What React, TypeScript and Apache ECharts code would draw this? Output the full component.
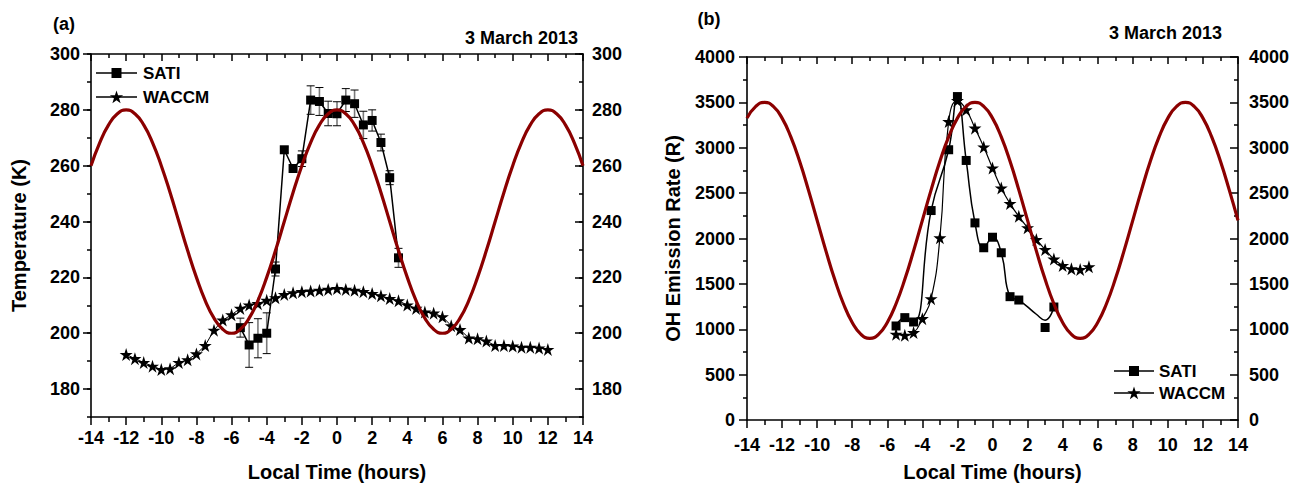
import React, { useEffect, useRef } from "react";
import * as echarts from "echarts";

// ---------- data ----------
const HOURS = [-14, -13.5, -13, -12.5, -12, -11.5, -11, -10.5, -10, -9.5, -9, -8.5, -8, -7.5, -7, -6.5, -6, -5.5, -5, -4.5, -4, -3.5, -3, -2.5, -2, -1.5, -1, -0.5, 0, 0.5, 1, 1.5, 2, 2.5, 3, 3.5, 4, 4.5, 5, 5.5, 6, 6.5, 7, 7.5, 8, 8.5, 9, 9.5, 10, 10.5, 11, 11.5, 12, 12.5, 13, 13.5, 14];

const TEMP_MODEL = [260, 268.3, 274.6, 278.6, 280, 278.6, 274.6, 268.3, 260, 250.4, 240, 229.6, 220, 211.7, 205.4, 201.4, 200, 201.4, 205.4, 211.7, 220, 229.6, 240, 250.4, 260, 268.3, 274.6, 278.6, 280, 278.6, 274.6, 268.3, 260, 250.4, 240, 229.6, 220, 211.7, 205.4, 201.4, 200, 201.4, 205.4, 211.7, 220, 229.6, 240, 250.4, 260, 268.3, 274.6, 278.6, 280, 278.6, 274.6, 268.3, 260];

const OH_MODEL = [3326, 3456, 3500, 3456, 3326, 3119, 2850, 2536, 2200, 1864, 1550, 1281, 1074, 944, 900, 944, 1074, 1281, 1550, 1864, 2200, 2536, 2850, 3119, 3326, 3456, 3500, 3456, 3326, 3119, 2850, 2536, 2200, 1864, 1550, 1281, 1074, 944, 900, 944, 1074, 1281, 1550, 1864, 2200, 2536, 2850, 3119, 3326, 3456, 3500, 3456, 3326, 3119, 2850, 2536, 2200];

const SATI_A_T = [-5.5, -5, -4.5, -4, -3.5, -3, -2.5, -2, -1.5, -1, -0.5, 0, 0.5, 1, 1.5, 2, 2.5, 3, 3.5];
const SATI_A = [202, 195.8, 198.2, 200, 223, 265.7, 259, 262.5, 283.5, 283, 278.7, 278.6, 283.5, 282.2, 274.6, 276.2, 268.3, 255.7, 227];
const SATI_A_ERR = [3.4, 8, 7, 7.3, 2.5, 1, 0.5, 2.8, 5.1, 5, 4.4, 4.3, 4.1, 4.9, 4.9, 3.8, 3, 2.5, 3.4];

const WACCM_A_T = [-12, -11.5, -11, -10.5, -10, -9.5, -9, -8.5, -8, -7.5, -7, -6.5, -6, -5.5, -5, -4.5, -4, -3.5, -3, -2.5, -2, -1.5, -1, -0.5, 0, 0.5, 1, 1.5, 2, 2.5, 3, 3.5, 4, 4.5, 5, 5.5, 6, 6.5, 7, 7.5, 8, 8.5, 9, 9.5, 10, 10.5, 11, 11.5, 12];
const WACCM_A = [192.4, 190.9, 189.5, 188.2, 187.0, 187.3, 189.5, 190.5, 192.6, 195.6, 201.1, 204.7, 206.6, 208.9, 210.1, 210.6, 211.8, 212.7, 213.9, 214.5, 214.9, 215.1, 215.4, 215.7, 216.0, 215.7, 215.4, 214.9, 214.2, 213.4, 212.4, 211.6, 210.1, 208.9, 207.6, 207.2, 205.9, 202.7, 201.3, 198.3, 198.0, 197.2, 195.6, 195.6, 195.4, 195.0, 195.0, 194.7, 194.2];

const SATI_B_T = [-5.5, -5, -4.5, -3.5, -2.5, -2, -1.5, -1, -0.5, 0, 0.5, 1, 1.5, 3, 3.5];
const SATI_B = [1036, 1128, 1080, 2308, 2978, 3564, 2860, 2172, 1898, 2014, 1843, 1359, 1322, 1019, 1245];
const SATI_B_CURVE_T = [-5.5, -5, -4.5, -3.5, -2.5, -2, -1.5, -1, -0.5, 0, 0.5, 1, 1.5, 2.5, 3, 3.5];
const SATI_B_CURVE = [1036, 1128, 1080, 2308, 2978, 3564, 2860, 2172, 1898, 2014, 1843, 1359, 1322, 1165, 1100, 1245];

const WACCM_B_T = [-5.5, -5, -4.5, -4, -3.5, -3, -2.5, -2, -1.5, -1, -0.5, 0, 0.5, 1, 1.5, 2, 2.5, 3, 3.5, 4, 4.5, 5, 5.5];
const WACCM_B = [945, 934, 963, 1117, 1337, 2007, 3289, 3520, 3418, 3216, 3008, 2777, 2557, 2385, 2245, 2118, 1989, 1879, 1773, 1703, 1667, 1659, 1689];

const TEMP_LABELS = [180, 200, 220, 240, 260, 280, 300];

// ---------- styling ----------
const FONT = '"Liberation Sans", Arial, Helvetica, sans-serif';
const RED = "#8b0000";
const STAR_PTS: [number, number][] = [
  [0, -1], [0.2245, -0.309], [0.9511, -0.309], [0.3633, 0.118], [0.5878, 0.809],
  [0, 0.382], [-0.5878, 0.809], [-0.3633, 0.118], [-0.9511, -0.309], [-0.2245, -0.309],
];
const STAR = "path://M" + STAR_PTS.map((p) => p.join(",")).join(" L") + " Z";

const zip = (xs: number[], ys: number[]) => xs.map((x, i) => [x, ys[i]]);

const tickLine = { color: "#000", width: 1.5 };
const axisLine = { show: true, onZero: false, lineStyle: { color: "#000", width: 1.6 } };
const labelStyle = { fontFamily: FONT, fontWeight: "bold" as const, fontSize: 18, color: "#000" };
const nameStyle = { fontFamily: FONT, fontWeight: "bold" as const, fontSize: 20, color: "#000" };

function xAxes(grid: number, labelMargin: number, nameGap: number) {
  return [
    {
      type: "value", gridIndex: grid, position: "bottom", min: -14, max: 14, interval: 2,
      axisLine,
      axisTick: { length: 8, lineStyle: tickLine },
      minorTick: { show: true, splitNumber: 2, length: 5, lineStyle: tickLine },
      splitLine: { show: false },
      axisLabel: { ...labelStyle, margin: labelMargin, formatter: (v: number) => String(v) },
      name: "Local Time (hours)", nameLocation: "middle", nameGap, nameTextStyle: nameStyle,
    },
    {
      type: "value", gridIndex: grid, position: "top", min: -14, max: 14, interval: 2,
      axisLine,
      axisTick: { inside: true, length: 7, lineStyle: tickLine },
      minorTick: { show: true, splitNumber: 2, length: 4, lineStyle: tickLine },
      splitLine: { show: false },
      axisLabel: { show: false },
    },
  ];
}

function legendGraphic(x0: number, y1: number, y2: number, lineLen: number, textGap: number) {
  const mid = x0 + lineLen / 2;
  const r = 7;
  return [
    { type: "line", shape: { x1: x0, y1, x2: x0 + lineLen, y2: y1 }, style: { stroke: "#000", lineWidth: 1.5 } },
    { type: "rect", shape: { x: mid - 5, y: y1 - 5, width: 10, height: 10 }, style: { fill: "#000" } },
    { type: "text", x: x0 + lineLen + textGap, y: y1, style: { text: "SATI", font: `bold 17px ${FONT}`, fill: "#000", verticalAlign: "middle" } },
    { type: "line", shape: { x1: x0, y1: y2, x2: x0 + lineLen, y2 }, style: { stroke: "#000", lineWidth: 1.5 } },
    { type: "polygon", shape: { points: STAR_PTS.map(([px, py]) => [mid + px * r, y2 + py * r + 0.5]) }, style: { fill: "#000" } },
    { type: "text", x: x0 + lineLen + textGap, y: y2, style: { text: "WACCM", font: `bold 17px ${FONT}`, fill: "#000", verticalAlign: "middle" } },
  ];
}

function buildOption() {
  const errData = SATI_A_T.map((t, i) => [t, SATI_A[i] - SATI_A_ERR[i], SATI_A[i] + SATI_A_ERR[i]]);
  return {
    animation: false,
    backgroundColor: "#fff",
    grid: [
      { left: 91, top: 54, width: 492, height: 366 },
      { left: 747, top: 57, width: 491, height: 364 },
    ],
    xAxis: [...xAxes(0, 12, 45), ...xAxes(1, 16, 42)],
    yAxis: [
      {
        type: "value", gridIndex: 0, position: "left", min: 170, max: 300, interval: 10,
        axisLine,
        axisTick: { length: 4, lineStyle: tickLine },
        splitLine: { show: false },
        axisLabel: { ...labelStyle, margin: 11, formatter: (v: number) => (TEMP_LABELS.includes(v) ? String(v) : "") },
        name: "Temperature (K)", nameLocation: "middle", nameGap: 62, nameTextStyle: nameStyle,
      },
      {
        type: "value", gridIndex: 0, position: "right", min: 170, max: 300, interval: 10,
        axisLine,
        axisTick: { inside: true, length: 4, lineStyle: tickLine },
        splitLine: { show: false },
        axisLabel: { ...labelStyle, margin: 9, formatter: (v: number) => (TEMP_LABELS.includes(v) ? String(v) : "") },
      },
      {
        type: "value", gridIndex: 1, position: "left", min: 0, max: 4000, interval: 500,
        axisLine,
        axisTick: { length: 8, lineStyle: tickLine },
        minorTick: { show: true, splitNumber: 2, length: 4, lineStyle: tickLine },
        splitLine: { show: false },
        axisLabel: { ...labelStyle, margin: 12, formatter: (v: number) => String(v) },
        name: "OH Emission Rate (R)", nameLocation: "middle", nameGap: 64, nameTextStyle: nameStyle,
      },
      {
        type: "value", gridIndex: 1, position: "right", min: 0, max: 4000, interval: 500,
        axisLine,
        axisTick: { inside: true, length: 8, lineStyle: tickLine },
        minorTick: { show: true, splitNumber: 2, length: 4, lineStyle: tickLine },
        splitLine: { show: false },
        axisLabel: { ...labelStyle, margin: 11, formatter: (v: number) => String(v) },
      },
      // long ticks at labelled values (panel a)
      {
        type: "value", gridIndex: 0, position: "left", min: 170, max: 300, interval: 10,
        axisLine: { show: false, onZero: false },
        axisTick: { length: 8, lineStyle: tickLine, customValues: TEMP_LABELS },
        splitLine: { show: false },
        axisLabel: { show: false },
      },
      {
        type: "value", gridIndex: 0, position: "right", min: 170, max: 300, interval: 10,
        axisLine: { show: false, onZero: false },
        axisTick: { inside: true, length: 8, lineStyle: tickLine, customValues: TEMP_LABELS },
        splitLine: { show: false },
        axisLabel: { show: false },
      },
    ],
    series: [
      // ----- panel (a) -----
      {
        type: "custom", name: "err", xAxisIndex: 0, yAxisIndex: 0, z: 2, data: errData,
        renderItem: (params: any, api: any) => {
          const t = api.value(0);
          const top = api.coord([t, api.value(2)]);
          const bot = api.coord([t, api.value(1)]);
          const w = 4;
          return {
            type: "group",
            children: [
              { type: "line", shape: { x1: top[0], y1: top[1], x2: bot[0], y2: bot[1] }, style: { stroke: "#7a7a7a", lineWidth: 1.6 } },
              { type: "line", shape: { x1: top[0] - w, y1: top[1], x2: top[0] + w, y2: top[1] }, style: { stroke: "#000", lineWidth: 1 } },
              { type: "line", shape: { x1: bot[0] - w, y1: bot[1], x2: bot[0] + w, y2: bot[1] }, style: { stroke: "#000", lineWidth: 1 } },
            ],
          };
        },
      },
      {
        type: "line", name: "SATI", xAxisIndex: 0, yAxisIndex: 0, z: 3, data: zip(SATI_A_T, SATI_A),
        symbol: "rect", symbolSize: 9, lineStyle: { color: "#000", width: 1.5 }, itemStyle: { color: "#000", opacity: 1 },
      },
      {
        type: "line", name: "WACCM", xAxisIndex: 0, yAxisIndex: 0, z: 3, data: zip(WACCM_A_T, WACCM_A),
        symbol: STAR, symbolSize: 13, lineStyle: { color: "#000", width: 1 }, itemStyle: { color: "#000", opacity: 1 },
      },
      {
        type: "line", name: "model-a", xAxisIndex: 0, yAxisIndex: 0, z: 5, data: zip(HOURS, TEMP_MODEL),
        smooth: true, symbol: "none", lineStyle: { color: RED, width: 3.2 },
      },
      // ----- panel (b) -----
      {
        type: "line", name: "SATI-curve", xAxisIndex: 2, yAxisIndex: 2, z: 3, data: zip(SATI_B_CURVE_T, SATI_B_CURVE),
        smooth: true, symbol: "none", lineStyle: { color: "#000", width: 1.5 },
      },
      {
        type: "scatter", name: "SATI-b", xAxisIndex: 2, yAxisIndex: 2, z: 4, data: zip(SATI_B_T, SATI_B),
        symbol: "rect", symbolSize: 9, itemStyle: { color: "#000", opacity: 1 },
      },
      {
        type: "line", name: "WACCM-b", xAxisIndex: 2, yAxisIndex: 2, z: 3, data: zip(WACCM_B_T, WACCM_B),
        smooth: true, symbol: STAR, symbolSize: 13, lineStyle: { color: "#000", width: 1.2 }, itemStyle: { color: "#000", opacity: 1 },
      },
      {
        type: "line", name: "model-b", xAxisIndex: 2, yAxisIndex: 2, z: 5, data: zip(HOURS, OH_MODEL),
        smooth: true, symbol: "none", lineStyle: { color: RED, width: 3.2 },
      },
    ],
    graphic: [
      { type: "text", x: 64, y: 24, style: { text: "(a)", font: `bold 18px ${FONT}`, fill: "#000", align: "center", verticalAlign: "middle" } },
      { type: "text", x: 709, y: 19, style: { text: "(b)", font: `bold 18px ${FONT}`, fill: "#000", align: "center", verticalAlign: "middle" } },
      { type: "text", x: 578, y: 38, style: { text: "3 March 2013", font: `bold 18px ${FONT}`, fill: "#000", align: "right", verticalAlign: "middle" } },
      { type: "text", x: 1222, y: 33, style: { text: "3 March 2013", font: `bold 18px ${FONT}`, fill: "#000", align: "right", verticalAlign: "middle" } },
      ...legendGraphic(96, 73, 97, 41, 6),
      ...legendGraphic(1114, 371, 393, 40, 5),
    ],
  };
}

export default function App() {
  const ref = useRef<HTMLDivElement>(null);
  useEffect(() => {
    if (!ref.current) return;
    const chart = echarts.init(ref.current, undefined, { renderer: "svg" });
    chart.setOption(buildOption() as any);
    return () => chart.dispose();
  }, []);
  return (
    <div
      ref={ref}
      style={{ position: "absolute", left: 0, top: 0, width: 1305, height: 487, background: "#fff" }}
    />
  );
}
